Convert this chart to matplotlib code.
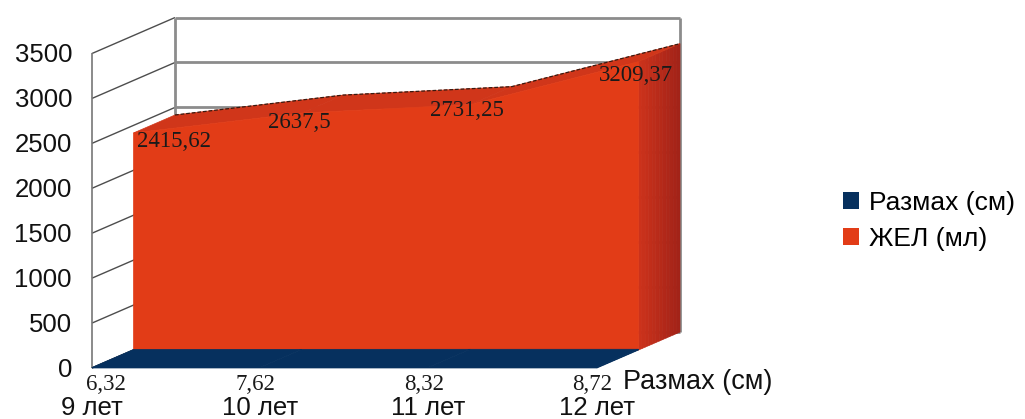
import numpy as np
import matplotlib.pyplot as plt
from matplotlib.colors import to_rgb
from matplotlib.patches import Polygon, Patch

plt.rcParams['font.family'] = ['Liberation Sans', 'DejaVu Sans']

# chart data
categories = ['9 лет', '10 лет', '11 лет', '12 лет']
razmah = [6.32, 7.62, 8.32, 8.72]
zhel = [2415.62, 2637.5, 2731.25, 3209.37]
razmah_labels = ['6,32', '7,62', '8,32', '8,72']
zhel_labels = ['2415,62', '2637,5', '2731,25', '3209,37']
yticks = [0, 500, 1000, 1500, 2000, 2500, 3000, 3500]
series_names = ['Размах (см)', 'ЖЕЛ (мл)']

W, H = 1025, 419
fig = plt.figure(figsize=(W / 100, H / 100), dpi=100)
ax = fig.add_axes([92 / W, 51 / H, 505 / W, 314.5 / H])
ax.set_xlim(0, 3)
ax.set_ylim(0, 3500)
ax.axis('off')

# oblique depth: one full step back moves this much in data units
DEPTH_X = 0.493
DEPTH_Y = 400.0


def proj(x, y, d):
    return (x + d * DEPTH_X, y + d * DEPTH_Y)


def line3(p, q, **kw):
    a = proj(*p)
    b = proj(*q)
    ax.plot([a[0], b[0]], [a[1], b[1]], clip_on=False, solid_capstyle='butt', **kw)


def poly(pts, color, z):
    ax.add_patch(Polygon([proj(*p) for p in pts], closed=True, facecolor=color,
                         edgecolor=color, lw=0.5, zorder=z, clip_on=False))


ymax = yticks[-1]
n = len(categories)

# walls: back wall grid, side wall grid, frame edges
wall_gray = '#8c8c8c'
for v in yticks:
    line3((0, v, 1), (n - 1, v, 1), color=wall_gray, lw=2, zorder=1)
    line3((0, v, 0), (0, v, 1), color='#4d4d4d', lw=1, zorder=1)
line3((0, 0, 1), (0, ymax, 1), color=wall_gray, lw=2, zorder=1)
line3((n - 1, 0, 1), (n - 1, ymax, 1), color=wall_gray, lw=2, zorder=1)
line3((0, 0, 0), (0, ymax, 0), color='#777777', lw=1.2, zorder=1)
line3((0, 0, 0), (0, 0, 1), color='#4d4d4d', lw=1, zorder=1)


def area3d(vals, d0, d1, front, top, side_from, side_to, z):
    last = len(vals) - 1
    # right side face, shaded from front to back
    steps = 12
    c0 = np.array(to_rgb(side_from))
    c1 = np.array(to_rgb(side_to))
    for k in range(steps):
        a = d0 + (d1 - d0) * k / steps
        b = d0 + (d1 - d0) * (k + 1) / steps
        c = c0 + (c1 - c0) * k / (steps - 1)
        poly([(last, 0, a), (last, vals[last], a), (last, vals[last], b), (last, 0, b)],
             tuple(c), z)
    # top faces
    for i in range(last):
        poly([(i, vals[i], d0), (i + 1, vals[i + 1], d0),
              (i + 1, vals[i + 1], d1), (i, vals[i], d1)], top, z)
    # front face
    pts = [(0, 0, d0)] + [(i, v, d0) for i, v in enumerate(vals)] + [(last, 0, d0)]
    poly(pts, front, z + 0.1)


red = '#e23c17'
blue = '#06305e'
area3d(zhel, 0.5, 1.0, red, '#d0361a', '#cc321b', '#a32318', 3)
back = [proj(i, v, 1.0) for i, v in enumerate(zhel)]
ax.plot([p[0] for p in back], [p[1] for p in back], color='#3a1a10', lw=0.9,
        ls=(0, (3, 1.5)), zorder=3.5, clip_on=False)
area3d(razmah, 0.0, 0.5, blue, blue, blue, blue, 5)

# value labels of ЖЕЛ
zhel_dy = [-9, -9, -6, -14]
for i, (v, t) in enumerate(zip(zhel, zhel_labels)):
    ha = 'left' if i == 0 else 'center'
    dx = 4 if i == 0 else -3
    ax.annotate(t, xy=proj(i, v, 0.5), xytext=(dx, zhel_dy[i]), textcoords='offset pixels',
                ha=ha, va='center', fontsize=16.5, family='Liberation Serif',
                color='#1a1a1a', zorder=10, annotation_clip=False)

# value labels of Размах
for i, (v, t) in enumerate(zip(razmah, razmah_labels)):
    ha = 'left' if i == 0 else 'center'
    dx = -6 if i == 0 else -5
    ax.annotate(t, xy=(i, 0), xytext=(dx, -16), textcoords='offset pixels',
                ha=ha, va='center', fontsize=16.5, family='Liberation Serif',
                color='#1a1a1a', zorder=10, annotation_clip=False)

# category labels
for i, c in enumerate(categories):
    ax.annotate(c, xy=(i, 0), xytext=(0, -47), textcoords='offset pixels',
                ha='center', va='baseline', fontsize=18.5, color='#111111',
                annotation_clip=False)

# value axis labels
for v in yticks:
    ax.annotate(str(v), xy=(0, v), xytext=(-20, -2), textcoords='offset pixels',
                ha='right', va='center', fontsize=18.5, color='#111111',
                annotation_clip=False)

# series axis label
ax.annotate(series_names[0], xy=(n - 1, 0), xytext=(26, -14), textcoords='offset pixels',
            ha='left', va='center', fontsize=19.5, color='#111111',
            annotation_clip=False)

handles = [Patch(facecolor=blue, edgecolor='none'), Patch(facecolor=red, edgecolor='none')]
fig.legend(handles, series_names, loc='center left', bbox_to_anchor=(843 / W, 1 - 221 / H),
           frameon=False, fontsize=19, handlelength=0.6, handleheight=0.6,
           handletextpad=0.4, labelspacing=0.45, borderaxespad=0, borderpad=0)

fig.savefig('out.png', dpi=100)
